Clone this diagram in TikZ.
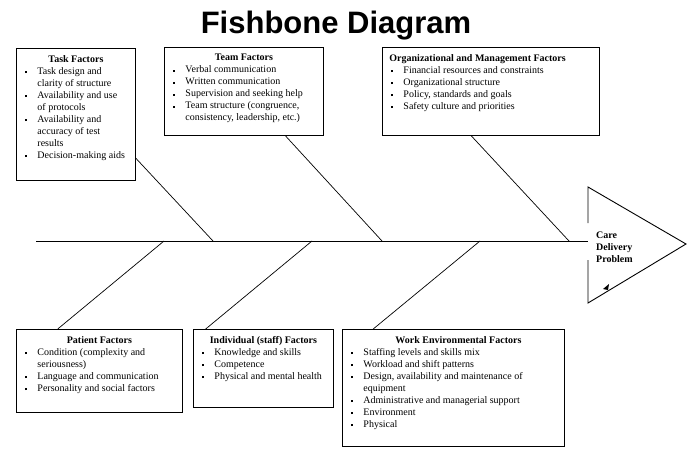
\documentclass[tikz,border=0pt]{standalone}
\usepackage{fontspec}
\setmainfont{Liberation Serif}
\newfontfamily\titlefont{Liberation Sans}
\usepackage{tikz}
\usetikzlibrary{positioning, calc}

\newenvironment{factorlist}{\begin{list}{\rule[0.3ex]{2pt}{2pt}}{%
  \setlength{\leftmargin}{17pt}\setlength{\labelwidth}{2pt}\setlength{\labelsep}{10pt}%
  \setlength{\itemsep}{0pt}\setlength{\parsep}{0pt}%
  \setlength{\topsep}{0pt}\setlength{\partopsep}{0pt}}}{\end{list}}
\newcommand{\factorbox}[3]{\parbox[c][#2][t]{#1}{\vspace*{3pt}#3}}

\begin{document}
\begin{tikzpicture}[x=1pt, y=-1pt,
    factor/.style={draw, line width=0.9pt, anchor=north west, inner sep=4pt},
    bone/.style={line width=0.7pt},
    spine/.style={line width=0.9pt}]
    \useasboundingbox (0,0) rectangle (693,455);

    % Nodes
    \node (title) [anchor=base, font=\titlefont\bfseries\fontsize{31}{36}\selectfont] at (336,33) {Fishbone Diagram};

    \node (task) [factor] at (16,48) {\factorbox{111pt}{124pt}{%
        \centerline{\textbf{Task Factors}}
        \begin{factorlist}
          \item Task design and\\ clarity of structure
          \item Availability and use\\ of protocols
          \item Availability and\\ accuracy of test\\ results
          \item Decision-making aids
        \end{factorlist}}};
    \node (team) [factor] at (164,47) {\factorbox{151pt}{80pt}{%
        \centerline{\textbf{Team Factors}}
        \begin{factorlist}
          \item Verbal communication
          \item Written communication
          \item Supervision and seeking help
          \item Team structure (congruence,\\ consistency, leadership, etc.)
        \end{factorlist}}};
    \node (org) [factor] at (382,47) {\factorbox{209pt}{80pt}{%
        \hspace*{3pt}\textbf{Organizational and Management Factors}\par
        \begin{factorlist}
          \item Financial resources and constraints
          \item Organizational structure
          \item Policy, standards and goals
          \item Safety culture and priorities
        \end{factorlist}}};

    \node (patient) [factor] at (16,329) {\factorbox{158pt}{75pt}{%
        \centerline{\textbf{Patient Factors}}
        \begin{factorlist}
          \item Condition (complexity and\\ seriousness)
          \item Language and communication
          \item Personality and social factors
        \end{factorlist}}};
    \node (staff) [factor] at (193,329) {\factorbox{132pt}{70pt}{%
        \centerline{\textbf{Individual (staff) Factors}}
        \begin{factorlist}
          \item Knowledge and skills
          \item Competence
          \item Physical and mental health
        \end{factorlist}}};
    \node (work) [factor] at (342,329) {\factorbox{214pt}{109pt}{%
        \centerline{\hspace{10pt}\textbf{Work Environmental Factors}}
        \begin{factorlist}
          \item Staffing levels and skills mix
          \item Workload and shift patterns
          \item Design, availability and maintenance of\\ equipment
          \item Administrative and managerial support
          \item Environment
          \item Physical
        \end{factorlist}}};

    \node (problem) [anchor=north west, inner sep=0pt, align=left, font=\bfseries] at (596,232) {Care\\ Delivery\\ Problem};

    % Spine and head
    \coordinate (tail) at (36,241);
    \coordinate (head) at (588,241);
    \draw[spine] (tail) -- (head);
    \draw[spine] ($(head)+(0,-18)$) -- ($(head)+(0,-54)$) -- ($(head)+(98,3)$)
        -- ($(head)+(0,62)$) -- ($(head)+(0,19)$);
    \fill ($(head)+(15,48)$) -- ($(head)+(21,43)$) -- ($(head)+(20,49)$) -- cycle;

    % Bones
    \coordinate (taskjoin) at (213,241);
    \coordinate (teamjoin) at (382,241);
    \coordinate (orgjoin) at (569,241);
    \coordinate (patientjoin) at (164,241);
    \coordinate (staffjoin) at (312,241);
    \coordinate (workjoin) at (480,241);
    \draw[bone] ($(task.north east)!0.83!(task.south east)$) -- (taskjoin);
    \draw[bone] ($(team.south west)!0.76!(team.south east)$) -- (teamjoin);
    \draw[bone] ($(org.south west)!0.41!(org.south east)$) -- (orgjoin);
    \draw[bone] ($(patient.north west)!0.25!(patient.north east)$) -- (patientjoin);
    \draw[bone] ($(staff.north west)!0.09!(staff.north east)$) -- (staffjoin);
    \draw[bone] ($(work.north west)!0.14!(work.north east)$) -- (workjoin);
\end{tikzpicture}
\end{document}
